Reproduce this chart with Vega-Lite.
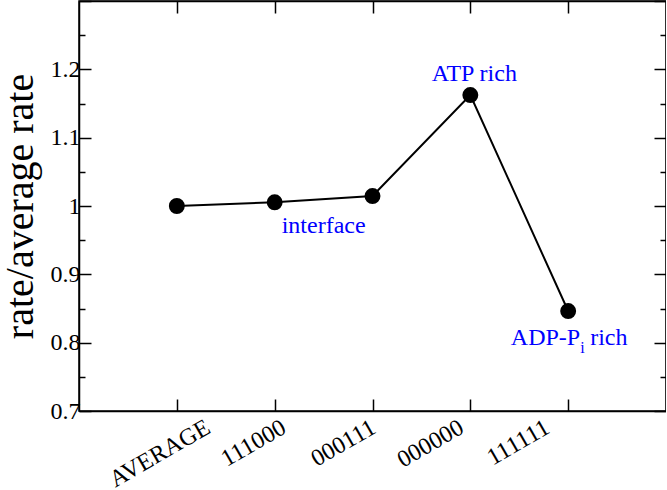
{
  "$schema": "https://vega.github.io/schema/vega-lite/v6.json",
  "width": 587,
  "height": 410,
  "autosize": "none",
  "padding": {"left": 79, "top": 1, "right": 0, "bottom": 79},
  "background": "white",
  "config": {
    "view": {"stroke": "black", "strokeWidth": 1.5}
  },
  "datasets": {
    "rates": [
      {"config": "AVERAGE", "ratio": 1.0},
      {"config": "111000", "ratio": 1.0054},
      {"config": "000111", "ratio": 1.0146},
      {"config": "000000", "ratio": 1.1624},
      {"config": "111111", "ratio": 0.8463}
    ],
    "notes": [
      {"config": "111000", "ratio": 0.9605, "part": "interface", "text": "interface"},
      {"config": "000000", "ratio": 1.183, "part": "atp", "text": "ATP rich"},
      {"config": "111111", "ratio": 0.7966, "part": "adp", "text": "ADP-P"},
      {"config": "111111", "ratio": 0.7966, "part": "sub", "text": "i"},
      {"config": "111111", "ratio": 0.7966, "part": "rich", "text": "rich"}
    ]
  },
  "layer": [
    {
      "data": {"name": "rates"},
      "encoding": {
        "x": {
          "field": "config", "type": "ordinal", "sort": null,
          "scale": {"type": "point", "padding": 1, "domain": ["AVERAGE", "111000", "000111", "000000", "111111"]},
          "axis": {
            "orient": "bottom", "title": null, "grid": false,
            "labelAngle": -30, "labelFont": "Liberation Serif", "labelFontSize": 24, "labelColor": "black", "labelPadding": 16,
            "labelOffset": {"condition": [{"test": "datum.value == 'AVERAGE'", "value": 25}, {"test": "datum.value == '111000'", "value": 3}, {"test": "datum.value == '000000'", "value": -15}, {"test": "datum.value == '111111'", "value": -27}], "value": -5},
            "tickSize": -12, "tickColor": "black", "tickWidth": 1.5,
            "domain": true, "domainColor": "black", "domainWidth": 1.5
          }
        },
        "y": {
          "field": "ratio", "type": "quantitative",
          "scale": {"domain": [0.7, 1.3], "nice": false, "zero": false},
          "axis": {
            "orient": "left", "grid": false,
            "title": "rate/average rate", "titleFont": "Liberation Serif", "titleFontSize": 40, "titleFontWeight": "normal", "titleColor": "black", "titlePadding": 10,
            "values": [0.7, 0.75, 0.8, 0.85, 0.9, 0.95, 1.0, 1.05, 1.1, 1.15, 1.2, 1.25, 1.3],
            "labelExpr": "(round(datum.value*100) % 10 == 0 && datum.value < 1.25) ? format(datum.value, '.1~f') : ''",
            "labelFont": "Liberation Serif", "labelFontSize": 24, "labelColor": "black", "labelPadding": 11,
            "tickColor": "black", "tickWidth": 1.5,
            "tickSize": {"condition": {"test": "round(datum.value*100) % 10 != 0", "value": -6}, "value": -12},
            "domain": true, "domainColor": "black", "domainWidth": 1.5
          }
        }
      },
      "layer": [
        {"mark": {"type": "line", "color": "black", "strokeWidth": 2}},
        {"mark": {"type": "point", "filled": true, "color": "black", "opacity": 1, "size": 254}}
      ]
    },
    {
      "data": {"name": "rates"},
      "mark": {"type": "point", "opacity": 0},
      "encoding": {
        "x": {
          "field": "config", "type": "ordinal", "sort": null,
          "axis": {"orient": "top", "title": null, "labels": false, "grid": false, "tickSize": -12, "tickColor": "black", "tickWidth": 1.5, "domain": true, "domainColor": "black", "domainWidth": 1.5}
        },
        "y": {
          "field": "ratio", "type": "quantitative",
          "axis": {
            "orient": "right", "title": null, "labels": false, "grid": false,
            "domain": true, "domainColor": "black", "domainWidth": 1.5,
            "values": [0.7, 0.75, 0.8, 0.85, 0.9, 0.95, 1.0, 1.05, 1.1, 1.15, 1.2, 1.25, 1.3],
            "tickColor": "black", "tickWidth": 1.5,
            "tickSize": {"condition": {"test": "round(datum.value*100) % 10 != 0", "value": -6}, "value": -12}
          }
        }
      }
    },
    {
      "data": {"name": "notes"},
      "transform": [{"filter": "datum.part == 'interface'"}],
      "mark": {"type": "text", "font": "Liberation Serif", "fontSize": 24, "color": "#0000ff", "align": "center", "baseline": "alphabetic", "dx": 49},
      "encoding": {"x": {"field": "config", "type": "ordinal", "sort": null, "axis": null}, "y": {"field": "ratio", "type": "quantitative", "axis": null}, "text": {"field": "text"}}
    },
    {
      "data": {"name": "notes"},
      "transform": [{"filter": "datum.part == 'atp'"}],
      "mark": {"type": "text", "font": "Liberation Serif", "fontSize": 24, "color": "#0000ff", "align": "center", "baseline": "alphabetic", "dx": 4},
      "encoding": {"x": {"field": "config", "type": "ordinal", "sort": null, "axis": null}, "y": {"field": "ratio", "type": "quantitative", "axis": null}, "text": {"field": "text"}}
    },
    {
      "data": {"name": "notes"},
      "transform": [{"filter": "datum.part == 'adp'"}],
      "mark": {"type": "text", "font": "Liberation Serif", "fontSize": 24, "color": "#0000ff", "align": "right", "baseline": "alphabetic", "dx": 12},
      "encoding": {"x": {"field": "config", "type": "ordinal", "sort": null, "axis": null}, "y": {"field": "ratio", "type": "quantitative", "axis": null}, "text": {"field": "text"}}
    },
    {
      "data": {"name": "notes"},
      "transform": [{"filter": "datum.part == 'sub'"}],
      "mark": {"type": "text", "font": "Liberation Serif", "fontSize": 16, "color": "#0000ff", "align": "left", "baseline": "alphabetic", "dx": 12, "dy": 8},
      "encoding": {"x": {"field": "config", "type": "ordinal", "sort": null, "axis": null}, "y": {"field": "ratio", "type": "quantitative", "axis": null}, "text": {"field": "text"}}
    },
    {
      "data": {"name": "notes"},
      "transform": [{"filter": "datum.part == 'rich'"}],
      "mark": {"type": "text", "font": "Liberation Serif", "fontSize": 24, "color": "#0000ff", "align": "left", "baseline": "alphabetic", "dx": 22},
      "encoding": {"x": {"field": "config", "type": "ordinal", "sort": null, "axis": null}, "y": {"field": "ratio", "type": "quantitative", "axis": null}, "text": {"field": "text"}}
    }
  ],
  "resolve": {"axis": {"x": "independent", "y": "independent"}}
}
